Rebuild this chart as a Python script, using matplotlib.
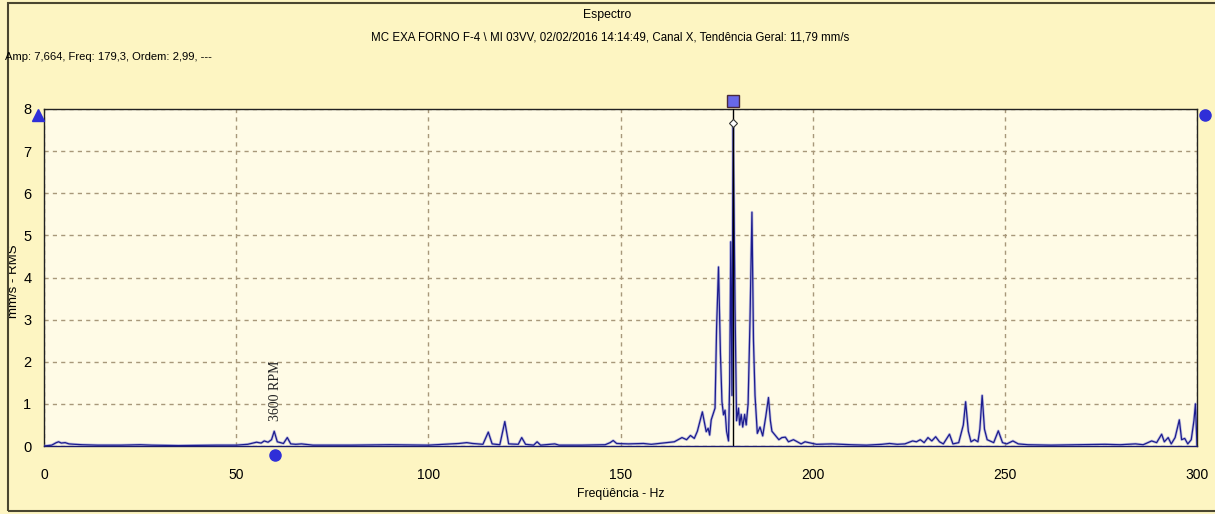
import matplotlib.pyplot as plt
from matplotlib.patches import Rectangle

_BG = '#fdf5c2'
_PLOT_BG = '#fffbe6'
_LINE = '#1c1c8e'
_GRID = '#a8987a'
_MARK = '#2f2fd8'
FONT = ['Liberation Sans Narrow', 'Liberation Sans', 'DejaVu Sans']

title = 'Espectro'
subtitle = 'MC EXA FORNO F-4 \\ MI 03VV, 02/02/2016 14:14:49, Canal X, Tendência Geral: 11,79 mm/s'
cursor_text = 'Amp: 7,664, Freq: 179,3, Ordem: 2,99, ---'

x_ticks = [0, 50, 100, 150, 200, 250, 300]
y_ticks = [0, 1, 2, 3, 4, 5, 6, 7, 8]

cursor_freq = 179.3
cursor_amp = 7.664
rpm_freq = 60.0
rpm_label = '3600 RPM'

freq = [0, 2, 3.2, 3.8, 4.5, 5.5, 6.5, 8, 10, 14, 20, 25, 28, 35, 45, 50,
        53, 55.3, 56.5, 57.3, 58.3, 59.2, 59.9, 60.7, 61.5, 62.3, 63.3, 64.2,
        65.5, 67, 70, 80, 90, 100, 104, 108, 110, 111.5, 114.2, 115.6, 116.6,
        118.6, 119.9, 120.9, 123.4, 124.3, 125.3, 127.4, 128.3, 129.2, 132.9,
        134, 140, 146, 147.3, 148.1, 149, 152, 156, 158, 162, 164, 166, 167.2,
        168.2, 169.2, 170.0, 171.3, 172.3, 172.8, 173.2, 173.6, 174.6, 175.0,
        175.5, 176.0, 176.4, 176.8, 177.2, 177.6, 178.1, 178.4, 178.7, 179.0,
        179.3, 179.8, 180.2, 180.7, 181.0, 181.4, 181.8, 182.3, 182.7, 183.2,
        183.7, 184.2, 184.6, 185.0, 185.6, 186.3, 187.0, 187.8, 188.5, 189.0,
        189.4, 190.3, 191.2, 192.0, 192.9, 193.7, 195, 196, 197, 198, 199, 201,
        205, 210, 214, 218, 220, 222, 224, 226, 227, 228, 229, 230, 231, 232,
        233, 234, 235.6, 236.5, 238, 239.2, 239.8, 240.5, 241.2, 242.1, 243,
        243.5, 244.1, 244.7, 245.4, 247.1, 248.3, 249.4, 250.5, 252.1, 253.5,
        256, 262, 270, 276, 280, 284, 286, 288.2, 289.5, 290.8, 291.5, 292.5,
        293.3, 294.3, 295.4, 296.0, 296.8, 297.6, 298.5, 299.2, 299.6, 299.9,
        300]
amp = [0.0, 0.02, 0.08, 0.1, 0.07, 0.08, 0.05, 0.04, 0.03, 0.02, 0.02, 0.03,
       0.02, 0.01, 0.02, 0.02, 0.04, 0.09, 0.07, 0.12, 0.09, 0.15, 0.35, 0.1,
       0.08, 0.06, 0.2, 0.05, 0.04, 0.05, 0.02, 0.02, 0.03, 0.02, 0.04, 0.06,
       0.08, 0.06, 0.04, 0.33, 0.05, 0.03, 0.58, 0.05, 0.04, 0.2, 0.04, 0.02,
       0.1, 0.02, 0.05, 0.02, 0.02, 0.03, 0.08, 0.13, 0.06, 0.05, 0.06, 0.04,
       0.08, 0.1, 0.2, 0.15, 0.25, 0.18, 0.35, 0.81, 0.34, 0.42, 0.26, 0.62,
       0.9, 2.8, 4.25, 2.2, 1.05, 0.74, 0.85, 0.35, 0.12, 1.5, 4.85, 1.2,
       7.66, 3.3, 0.6, 0.9, 0.5, 0.75, 0.45, 0.75, 0.5, 1.0, 3.0, 5.55, 2.5,
       1.2, 0.3, 0.45, 0.24, 0.7, 1.15, 0.6, 0.35, 0.25, 0.15, 0.2, 0.21, 0.1,
       0.15, 0.1, 0.05, 0.1, 0.08, 0.04, 0.05, 0.03, 0.02, 0.04, 0.06, 0.04,
       0.05, 0.12, 0.1, 0.15, 0.08, 0.2, 0.12, 0.22, 0.1, 0.05, 0.28, 0.05,
       0.08, 0.5, 1.05, 0.35, 0.1, 0.15, 0.1, 0.4, 1.2, 0.4, 0.15, 0.08, 0.36,
       0.08, 0.05, 0.12, 0.05, 0.03, 0.02, 0.03, 0.04, 0.03, 0.05, 0.03, 0.12,
       0.08, 0.28, 0.1, 0.2, 0.05, 0.2, 0.62, 0.15, 0.18, 0.05, 0.15, 0.6,
       1.0, 0.3, 0.0]

fig = plt.figure(figsize=(12.15, 5.14), dpi=100)
fig.patch.set_facecolor(_BG)
fig.patches.append(Rectangle((8 / 1215, 3 / 514), 1215 / 1215, 508 / 514,
                             transform=fig.transFigure, fill=False,
                             edgecolor='#4a4630', linewidth=1.5))

ax = fig.add_axes([44 / 1215, 1 - 446 / 514, 1153 / 1215, 337 / 514])
ax.set_facecolor(_PLOT_BG)

# spectrum (light halo + dark line)
ax.plot(freq, amp, color='#8c8cd8', linewidth=2.0, alpha=0.55, zorder=3)
ax.plot(freq, amp, color=_LINE, linewidth=0.9, zorder=4)

# cursor
ax.plot([cursor_freq, cursor_freq], [0, 8], color='black', linewidth=1.0, zorder=5)
ax.plot([cursor_freq], [cursor_amp], marker='D', markersize=4,
        markerfacecolor='white', markeredgecolor='#333333', markeredgewidth=0.8, zorder=6)
ax.plot([cursor_freq], [8.18], marker='s', markersize=9, markerfacecolor='#6868e8',
        markeredgecolor='#4a2a3a', markeredgewidth=1.0, clip_on=False, zorder=6)

# side markers
ax.plot([-1.5], [7.85], marker='^', markersize=9, color=_MARK, clip_on=False, zorder=6)
ax.plot([302.2], [7.85], marker='o', markersize=8, color=_MARK, clip_on=False, zorder=6)
ax.plot([rpm_freq], [-0.22], marker='o', markersize=8, color=_MARK, clip_on=False, zorder=6)

ax.text(rpm_freq + 0.2, 0.6, rpm_label, rotation=90, ha='center', va='bottom',
        fontsize=10, family=['Liberation Serif', 'DejaVu Serif'], color='#222222')

ax.set_xlim(0, 300)
ax.set_ylim(0, 8)
ax.set_xticks(x_ticks)
ax.set_yticks(y_ticks)
ax.set_xticklabels([str(t) for t in x_ticks], family=FONT, fontsize=10)
ax.set_yticklabels([str(t) for t in y_ticks], family=FONT, fontsize=10.5)
ax.tick_params(axis='y', length=0, pad=9)
ax.tick_params(axis='x', length=0, pad=16)
ax.grid(True, color=_GRID, linestyle=(0, (3, 3)), linewidth=1.0)
for s in ax.spines.values():
    s.set_color('#222222')
    s.set_linewidth(1.0)
ax.spines['bottom'].set_color('#1c1c6e')

ax.set_xlabel('Freqüência - Hz', family=FONT, fontsize=8.8, labelpad=4)
ax.set_ylabel('mm/s - RMS', family=FONT, fontsize=9.5, va='center')
ax.yaxis.set_label_coords(-0.0262, 0.49)

fig.text(607 / 1215, 1 - 15 / 514, title, ha='center', va='center', family=FONT, fontsize=8.8)
fig.text(610 / 1215, 1 - 38 / 514, subtitle, ha='center', va='center', family=FONT, fontsize=8.3)
fig.text(5 / 1215, 1 - 57 / 514, cursor_text, ha='left', va='center', family=FONT, fontsize=8.1)

fig.savefig('out.png', dpi=100, facecolor=_BG)
